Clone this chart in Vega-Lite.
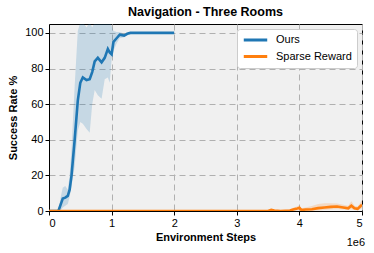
{
  "$schema": "https://vega.github.io/schema/vega-lite/v6.json",
  "width": 313,
  "height": 187,
  "autosize": {"type": "none"},
  "padding": {"left": 49, "top": 24, "right": 12, "bottom": 42},
  "background": "white",
  "title": {"text": "Navigation - Three Rooms", "font": "Liberation Sans", "fontSize": 12.5, "fontWeight": "bold", "color": "black", "offset": 6},
  "config": {
    "view": {"fill": "#f0f0f0", "stroke": "black", "strokeWidth": 1},
    "font": "Liberation Sans",
    "axis": {
      "titleFont": "Liberation Sans", "titleFontSize": 11, "titleFontWeight": "bold", "titleColor": "black",
      "labelFont": "Liberation Sans", "labelFontSize": 11, "labelColor": "black", "labelPadding": 2, "labelOverlap": false,
      "domainColor": "black", "tickColor": "black", "tickSize": 4,
      "grid": true, "gridColor": "#b0b0b0", "gridDash": [6, 4], "gridWidth": 1
    },
    "legend": {
      "orient": "top-right", "offset": 5,
      "symbolType": "stroke", "symbolStrokeWidth": 3, "symbolSize": 550, "symbolOpacity": 1,
      "labelFont": "Liberation Sans", "labelFontSize": 11, "labelColor": "black",
      "fillColor": "white", "strokeColor": "#cccccc", "cornerRadius": 3, "padding": 5,
      "clipHeight": 12, "rowPadding": 4.5, "labelOffset": 7
    }
  },
  "data": {"values": [
    {"series": "Ours", "step": 0, "mean": 0, "lo": 0, "hi": 0},
    {"series": "Ours", "step": 100000, "mean": 0, "lo": 0, "hi": 0},
    {"series": "Ours", "step": 150000, "mean": 0, "lo": 0, "hi": 1},
    {"series": "Ours", "step": 200000, "mean": 5, "lo": 1, "hi": 10},
    {"series": "Ours", "step": 220000, "mean": 7, "lo": 2, "hi": 13},
    {"series": "Ours", "step": 260000, "mean": 7.5, "lo": 3, "hi": 14},
    {"series": "Ours", "step": 300000, "mean": 8.5, "lo": 4, "hi": 12},
    {"series": "Ours", "step": 330000, "mean": 12, "lo": 8, "hi": 20},
    {"series": "Ours", "step": 360000, "mean": 20, "lo": 14, "hi": 35},
    {"series": "Ours", "step": 410000, "mean": 40, "lo": 25, "hi": 70},
    {"series": "Ours", "step": 460000, "mean": 62, "lo": 45, "hi": 101},
    {"series": "Ours", "step": 500000, "mean": 72, "lo": 50, "hi": 106},
    {"series": "Ours", "step": 540000, "mean": 75, "lo": 49, "hi": 106},
    {"series": "Ours", "step": 600000, "mean": 73.5, "lo": 46, "hi": 103},
    {"series": "Ours", "step": 650000, "mean": 74, "lo": 44, "hi": 106},
    {"series": "Ours", "step": 690000, "mean": 78, "lo": 60, "hi": 103},
    {"series": "Ours", "step": 730000, "mean": 84, "lo": 68, "hi": 106},
    {"series": "Ours", "step": 780000, "mean": 86, "lo": 65, "hi": 106},
    {"series": "Ours", "step": 840000, "mean": 83.5, "lo": 63, "hi": 106},
    {"series": "Ours", "step": 890000, "mean": 86, "lo": 74, "hi": 106},
    {"series": "Ours", "step": 940000, "mean": 91, "lo": 75, "hi": 106},
    {"series": "Ours", "step": 970000, "mean": 89, "lo": 72, "hi": 106},
    {"series": "Ours", "step": 1000000, "mean": 88, "lo": 85, "hi": 104},
    {"series": "Ours", "step": 1030000, "mean": 95, "lo": 90, "hi": 101},
    {"series": "Ours", "step": 1080000, "mean": 97, "lo": 94, "hi": 100.5},
    {"series": "Ours", "step": 1130000, "mean": 99, "lo": 97, "hi": 100.5},
    {"series": "Ours", "step": 1200000, "mean": 98.5, "lo": 97.5, "hi": 99.5},
    {"series": "Ours", "step": 1250000, "mean": 99.5, "lo": 99, "hi": 100},
    {"series": "Ours", "step": 1300000, "mean": 100, "lo": 100, "hi": 100},
    {"series": "Ours", "step": 1500000, "mean": 100, "lo": 100, "hi": 100},
    {"series": "Ours", "step": 2000000, "mean": 100, "lo": 100, "hi": 100},
    {"series": "Sparse Reward", "step": 0, "mean": 0, "lo": 0, "hi": 0},
    {"series": "Sparse Reward", "step": 3500000, "mean": 0, "lo": 0, "hi": 0},
    {"series": "Sparse Reward", "step": 3550000, "mean": 0.7, "lo": 0, "hi": 1.2},
    {"series": "Sparse Reward", "step": 3600000, "mean": 0.3, "lo": 0, "hi": 0.6},
    {"series": "Sparse Reward", "step": 3700000, "mean": 0, "lo": 0, "hi": 0.3},
    {"series": "Sparse Reward", "step": 3850000, "mean": 0.3, "lo": 0, "hi": 0.8},
    {"series": "Sparse Reward", "step": 3900000, "mean": 0.8, "lo": 0, "hi": 1.8},
    {"series": "Sparse Reward", "step": 3950000, "mean": 1.2, "lo": 0.2, "hi": 2.4},
    {"series": "Sparse Reward", "step": 4000000, "mean": 1.8, "lo": 0.5, "hi": 3.2},
    {"series": "Sparse Reward", "step": 4030000, "mean": 0.6, "lo": 0, "hi": 1.5},
    {"series": "Sparse Reward", "step": 4100000, "mean": 0.8, "lo": 0, "hi": 2},
    {"series": "Sparse Reward", "step": 4200000, "mean": 1.0, "lo": 0, "hi": 2.8},
    {"series": "Sparse Reward", "step": 4300000, "mean": 1.6, "lo": 0.3, "hi": 4},
    {"series": "Sparse Reward", "step": 4400000, "mean": 2.0, "lo": 0.5, "hi": 4.4},
    {"series": "Sparse Reward", "step": 4500000, "mean": 2.3, "lo": 0.8, "hi": 4.3},
    {"series": "Sparse Reward", "step": 4600000, "mean": 2.5, "lo": 1, "hi": 4.2},
    {"series": "Sparse Reward", "step": 4700000, "mean": 2.0, "lo": 0.8, "hi": 3.5},
    {"series": "Sparse Reward", "step": 4780000, "mean": 1.5, "lo": 0.5, "hi": 3},
    {"series": "Sparse Reward", "step": 4830000, "mean": 3.0, "lo": 1, "hi": 5.5},
    {"series": "Sparse Reward", "step": 4880000, "mean": 1.5, "lo": 0.5, "hi": 3},
    {"series": "Sparse Reward", "step": 4930000, "mean": 1.2, "lo": 0.3, "hi": 2.5},
    {"series": "Sparse Reward", "step": 4970000, "mean": 2.5, "lo": 1, "hi": 4.5},
    {"series": "Sparse Reward", "step": 5000000, "mean": 3.5, "lo": 1.5, "hi": 6}
  ]},
  "encoding": {
    "x": {
      "field": "step", "type": "quantitative",
      "scale": {"domain": [0, 5000000], "nice": false, "zero": false},
      "axis": {
        "values": [0, 1000000, 2000000, 3000000, 4000000, 5000000],
        "labelExpr": "format(datum.value / 1000000, 'd')",
        "title": "Environment Steps", "titlePadding": 3
      }
    }
  },
  "layer": [
    {
      "mark": {"type": "area", "opacity": 0.2, "clip": true, "interpolate": "linear"},
      "encoding": {
        "y": {"field": "lo", "type": "quantitative", "scale": {"domain": [0, 105], "nice": false},
          "axis": {"values": [0, 20, 40, 60, 80, 100], "title": "Success Rate %", "titlePadding": 6}},
        "y2": {"field": "hi"},
        "color": {"field": "series", "type": "nominal", "title": null,
          "scale": {"domain": ["Ours", "Sparse Reward"], "range": ["#1f77b4", "#ff7f0e"]}}
      }
    },
    {
      "mark": {"type": "line", "strokeWidth": 2.6, "clip": true},
      "encoding": {
        "y": {"field": "mean", "type": "quantitative",
          "axis": {"values": [0, 20, 40, 60, 80, 100], "title": "Success Rate %", "titlePadding": 6}},
        "color": {"field": "series", "type": "nominal", "title": null,
          "scale": {"domain": ["Ours", "Sparse Reward"], "range": ["#1f77b4", "#ff7f0e"]}}
      }
    },
    {
      "data": {"values": [{"step": 5000000, "label": "1e6"}]},
      "mark": {"type": "text", "align": "right", "baseline": "top", "dy": 26, "dx": 3, "fontSize": 11, "font": "Liberation Sans", "color": "black"},
      "encoding": {
        "x": {"field": "step", "type": "quantitative"},
        "y": {"datum": 0, "type": "quantitative",
          "axis": {"values": [0, 20, 40, 60, 80, 100], "title": "Success Rate %", "titlePadding": 6}},
        "text": {"field": "label"}
      }
    }
  ]
}
